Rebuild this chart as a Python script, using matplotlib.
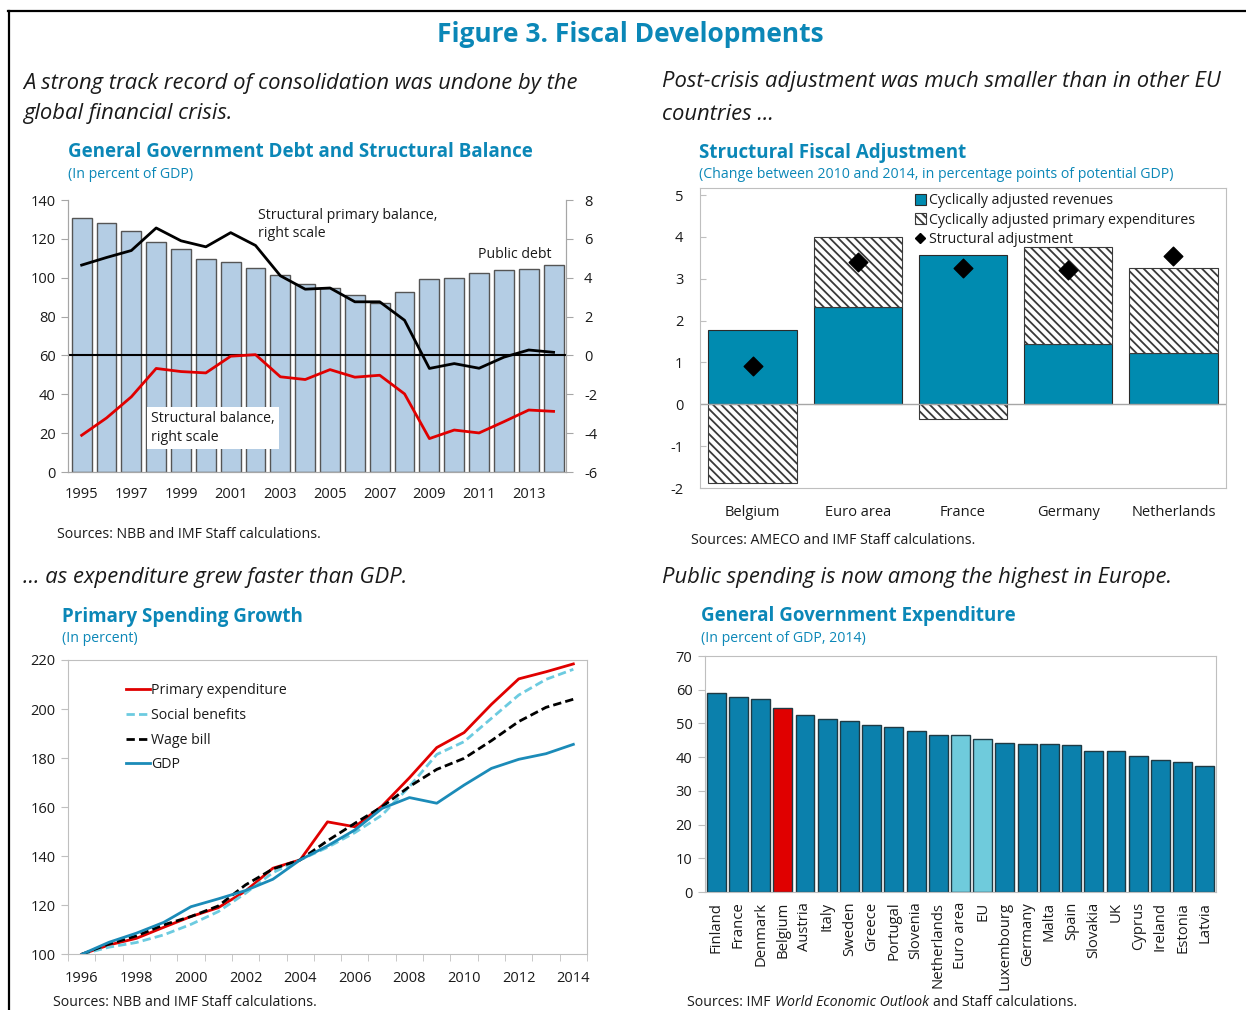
import matplotlib
matplotlib.use('Agg')
import matplotlib.pyplot as plt
from matplotlib.patches import Patch
from matplotlib.lines import Line2D
import numpy as np

plt.rcParams['font.family'] = ['Open Sans', 'DejaVu Sans']
plt.rcParams['axes.unicode_minus'] = False
plt.rcParams['hatch.linewidth'] = 1.3
plt.rcParams['hatch.color'] = '#3a3a3a'

# ---- data: debt and structural balance ----
debt_years = list(range(1995, 2015))
public_debt = [130.9, 128.4, 123.9, 118.6, 114.7, 109.4, 108.0, 105.1, 101.5, 96.7,
               94.6, 91.1, 86.9, 92.6, 99.3, 99.6, 102.3, 104.1, 104.7, 106.6]
struct_primary_balance = [4.65, 5.04, 5.40, 6.56, 5.90, 5.59, 6.32, 5.66, 4.10, 3.41,
                          3.47, 2.76, 2.76, 1.81, -0.67, -0.42, -0.66, -0.09, 0.28, 0.16]
struct_balance = [-4.11, -3.22, -2.13, -0.67, -0.83, -0.90, -0.04, 0.04, -1.10, -1.24,
                  -0.73, -1.12, -1.02, -1.98, -4.28, -3.84, -3.99, -3.41, -2.81, -2.88]

# ---- data: structural fiscal adjustment ----
adj_countries = ['Belgium', 'Euro area', 'France', 'Germany', 'Netherlands']
adj_revenues = [1.78, 2.32, 3.56, 1.44, 1.22]
adj_expenditures = [-1.89, 1.67, -0.34, 2.32, 2.03]
adj_structural = [0.91, 3.39, 3.26, 3.21, 3.54]

# ---- data: primary spending growth ----
growth_years = list(range(1996, 2015))
primary_exp = [100, 103.8, 106.5, 111.0, 115.4, 119.0, 125.8, 135.1, 138.5, 154.0,
               152.0, 160.5, 172.0, 184.3, 190.4, 201.9, 212.3, 215.2, 218.4]
social_benefits = [100, 102.9, 104.8, 107.9, 112.2, 117.4, 124.9, 133.3, 138.5, 143.6,
                   149.6, 156.8, 168.4, 181.5, 186.7, 196.2, 205.7, 212.1, 216.2]
wage_bill = [100, 104.2, 107.5, 112.0, 115.4, 119.7, 128.3, 134.8, 138.5, 146.3,
             153.4, 160.2, 168.4, 175.4, 179.9, 187.1, 194.9, 200.7, 204.0]
gdp = [100, 104.9, 108.6, 113.0, 119.4, 122.6, 126.0, 130.6, 138.5, 144.2,
       150.7, 159.5, 163.9, 161.6, 169.0, 175.8, 179.5, 181.8, 185.6]

# ---- data: general government expenditure 2014 ----
exp_countries = ['Finland', 'France', 'Denmark', 'Belgium', 'Austria', 'Italy', 'Sweden',
                 'Greece', 'Portugal', 'Slovenia', 'Netherlands', 'Euro area', 'EU',
                 'Luxembourg', 'Germany', 'Malta', 'Spain', 'Slovakia', 'UK', 'Cyprus',
                 'Ireland', 'Estonia', 'Latvia']
exp_values = [58.9, 57.7, 57.2, 54.5, 52.4, 51.3, 50.6, 49.4, 49.0, 47.7, 46.7, 46.7,
              45.5, 44.2, 44.0, 44.0, 43.7, 41.8, 41.7, 40.4, 39.3, 38.6, 37.3]

TEAL = '#0B87B7'
TXT = '#1a1a1a'
GRID = '#BFBFBF'
W, H = 1246, 1010


def fx(x):
    return x / W


def fy(y):
    return 1 - y / H


def box(l, t, r, b):
    return [fx(l), fy(b), (r - l) / W, (b - t) / H]


fig = plt.figure(figsize=(W / 100, H / 100), dpi=100)

# border lines of the figure panel
fig.add_artist(Line2D([fx(8), 1], [fy(10.5), fy(10.5)], color='black', lw=1.6))
fig.add_artist(Line2D([fx(9), fx(9)], [fy(10.5), 0], color='black', lw=1.6))

fig.text(fx(630), fy(34), 'Figure 3. Fiscal Developments', ha='center', va='center',
         fontsize=19, fontweight='bold', color=TEAL)

italic = dict(fontsize=15.8, style='italic', color=TXT, va='center', ha='left')
fig.text(fx(23), fy(84), 'A strong track record of consolidation was undone by the', **italic)
fig.text(fx(23), fy(114), 'global financial crisis.', **italic)
fig.text(fx(662), fy(82), 'Post-crisis adjustment was much smaller than in other EU', **italic)
fig.text(fx(662), fy(115), 'countries ...', **italic)
fig.text(fx(23), fy(578), '... as expenditure grew faster than GDP.', **italic)
fig.text(fx(662), fy(578), 'Public spending is now among the highest in Europe.', **italic)

ttl = dict(fontsize=13.5, fontweight='bold', color=TEAL, va='center', ha='left')
sub = dict(fontsize=10.2, color=TEAL, va='center', ha='left')
fig.text(fx(68), fy(152), 'General Government Debt and Structural Balance', **ttl)
fig.text(fx(68), fy(175), '(In percent of GDP)', **sub)
fig.text(fx(699), fy(153), 'Structural Fiscal Adjustment', **ttl)
fig.text(fx(699), fy(175), '(Change between 2010 and 2014, in percentage points of potential GDP)', **sub)
fig.text(fx(62), fy(617), 'Primary Spending Growth', **ttl)
fig.text(fx(62), fy(639), '(In percent)', **sub)
fig.text(fx(701), fy(616), 'General Government Expenditure', **ttl)
fig.text(fx(701), fy(639), '(In percent of GDP, 2014)', **sub)

src = dict(fontsize=10.2, color=TXT, va='center', ha='left')
fig.text(fx(57), fy(535), 'Sources: NBB and IMF Staff calculations.', **src)
fig.text(fx(691), fy(541), 'Sources: AMECO and IMF Staff calculations.', **src)
fig.text(fx(53), fy(1002), 'Sources: NBB and IMF Staff calculations.', **src)

# ---------------- chart 1 ----------------
ax1 = fig.add_axes(box(68, 200, 566, 472))
ax1.bar(debt_years, public_debt, width=0.8, color='#B4CDE4', edgecolor='#555555', lw=1, zorder=1)
ax1.set_ylim(0, 140)
ax1.set_yticks(range(0, 141, 20))
ax1.set_xlim(1994.45, 2014.5)
ax1.set_xticks(range(1995, 2014, 2))
ax1.tick_params(axis='x', length=0, pad=11, labelsize=10.5, labelcolor=TXT)
ax1.tick_params(axis='y', length=5, color='#A6A6A6', labelsize=10.5, labelcolor=TXT, pad=4)
ax1.spines['top'].set_visible(False)
for s in ['left', 'bottom', 'right']:
    ax1.spines[s].set_color('#A6A6A6')
ax1r = ax1.twinx()
ax1r.set_ylim(-6, 8)
ax1r.set_yticks(range(-6, 9, 2))
ax1r.axhline(0, color='black', lw=1.5)
ax1r.plot(debt_years, struct_primary_balance, color='black', lw=2)
ax1r.plot(debt_years, struct_balance, color='#E00000', lw=2)
ax1r.tick_params(axis='y', length=5, color='#A6A6A6', labelsize=10.5, labelcolor=TXT, pad=8)
ax1r.spines['top'].set_visible(False)
for s in ['left', 'bottom', 'right']:
    ax1r.spines[s].set_color('#A6A6A6')
ann = dict(fontsize=10.2, color=TXT, linespacing=1.35, transform=ax1.transAxes)
ax1.text(0.3815, 0.972, 'Structural primary balance,\nright scale', va='top', ha='left', **ann)
ax1.text(0.823, 0.80, 'Public debt', va='center', ha='left', **ann)
ax1.text(0.1667, 0.162, 'Structural balance,\nright scale', va='center', ha='left',
         bbox=dict(facecolor='white', edgecolor='none', pad=3), **ann)

# ---------------- chart 2 ----------------
ax2 = fig.add_axes(box(700, 187.7, 1226, 488))
xs = np.arange(len(adj_countries))
exp_bottom = [r if e > 0 else 0 for r, e in zip(adj_revenues, adj_expenditures)]
ax2.bar(xs, adj_revenues, width=0.84, color='#008BB0', edgecolor='#2b2b2b', lw=0.8)
ax2.bar(xs, adj_expenditures, bottom=exp_bottom, width=0.84, color='white',
        edgecolor='#3a3a3a', lw=0.8, hatch='\\\\\\\\')
ax2.scatter(xs, adj_structural, marker='D', s=90, color='black', zorder=3)
ax2.axhline(0, color='#A6A6A6', lw=1)
ax2.set_xlim(-0.5, len(adj_countries) - 0.5)
ax2.set_ylim(-2, 5.175)
ax2.set_yticks(range(-2, 6))
ax2.set_xticks(xs)
ax2.set_xticklabels(adj_countries)
ax2.tick_params(axis='x', length=0, pad=12, labelsize=10.5, labelcolor=TXT)
ax2.tick_params(axis='y', length=4, direction='in', color=GRID, labelsize=10.5,
                labelcolor=TXT, pad=12)
for s in ax2.spines.values():
    s.set_color(GRID)
handles2 = [Patch(facecolor='#008BB0', edgecolor='#2b2b2b', lw=0.8),
            Patch(facecolor='white', edgecolor='#3a3a3a', lw=0.8, hatch='\\\\\\\\'),
            Line2D([], [], marker='D', color='black', ls='none', markersize=5)]
ax2.legend(handles2, ['Cyclically adjusted revenues',
                      'Cyclically adjusted primary expenditures',
                      'Structural adjustment'],
           loc='upper left', bbox_to_anchor=(0.398, 1.0), frameon=False, fontsize=10.2,
           handlelength=0.75, handleheight=0.75, handletextpad=0.25, labelspacing=0.3,
           borderaxespad=0, labelcolor=TXT)

# ---------------- chart 3 ----------------
ax3 = fig.add_axes(box(68, 660, 587, 954.3))
ax3.plot(growth_years, primary_exp, color='#E00000', lw=2, label='Primary expenditure')
ax3.plot(growth_years, social_benefits, color='#6CCBE0', lw=2, ls=(0, (3, 1.5)),
         label='Social benefits')
ax3.plot(growth_years, wage_bill, color='black', lw=2, ls=(0, (3, 1.5)), label='Wage bill')
ax3.plot(growth_years, gdp, color='#1B8BB8', lw=2, label='GDP')
ax3.set_xlim(1995.5, 2014.5)
ax3.set_ylim(100, 220)
ax3.set_yticks(range(100, 221, 20))
ax3.set_xticks(range(1996, 2015, 2))
ax3.set_xticks(np.arange(1995.5, 2015, 1), minor=True)
ax3.tick_params(axis='x', which='major', length=0, pad=12, labelsize=10.5, labelcolor=TXT)
ax3.tick_params(axis='x', which='minor', length=5, color=GRID)
ax3.tick_params(axis='y', length=5, color=GRID, labelsize=10.5, labelcolor=TXT, pad=4)
for s in ax3.spines.values():
    s.set_color(GRID)
ax3.legend(loc='upper left', bbox_to_anchor=(0.1, 0.94), frameon=False, fontsize=10.2,
           handlelength=1.7, handletextpad=0.1, labelspacing=0.68, borderaxespad=0,
           labelcolor=TXT)

# ---------------- chart 4 ----------------
ax4 = fig.add_axes(box(705, 656, 1216, 892))
bar_colors = []
for c in exp_countries:
    if c == 'Belgium':
        bar_colors.append('#E00000')
    elif c in ('Euro area', 'EU'):
        bar_colors.append('#6FCBDC')
    else:
        bar_colors.append('#0B80AC')
x4 = np.arange(len(exp_countries))
ax4.bar(x4, exp_values, width=0.85, color=bar_colors, edgecolor='#1f3a44', lw=1)
ax4.set_xlim(-0.5, len(exp_countries) - 0.5)
ax4.set_ylim(0, 70)
ax4.set_yticks(range(0, 71, 10))
ax4.set_xticks(x4)
ax4.set_xticklabels(exp_countries, rotation=90, va='top', ha='center')
ax4.tick_params(axis='x', length=0, pad=7, labelsize=10.7, labelcolor=TXT)
ax4.tick_params(axis='y', length=5, color=GRID, labelsize=10.5, labelcolor=TXT, pad=4)
for s in ax4.spines.values():
    s.set_color(GRID)

# sources line with italic publication name
t1 = fig.text(fx(687), fy(1003), 'Sources: IMF', **src)
t2 = ax4.annotate('World Economic Outlook', xy=(1, 0), xycoords=t1, xytext=(3, 0),
                  textcoords='offset points', va='bottom', ha='left', fontsize=10.2,
                  style='italic', color=TXT, annotation_clip=False)
ax4.annotate('and Staff calculations.', xy=(1, 0), xycoords=t2, xytext=(3, 0),
             textcoords='offset points', va='bottom', ha='left', fontsize=10.2,
             color=TXT, annotation_clip=False)

fig.savefig('out.png', dpi=100)
